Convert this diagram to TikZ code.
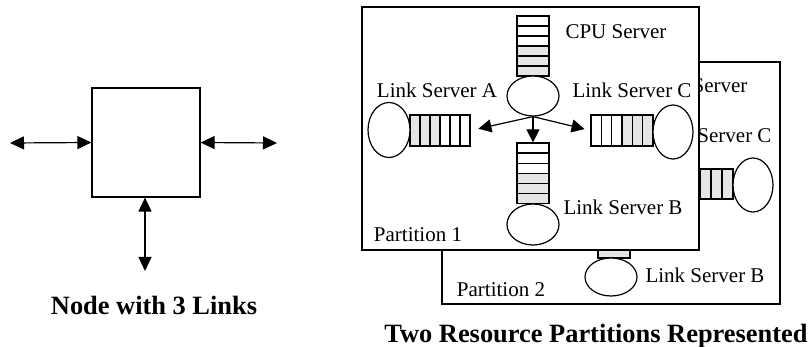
\documentclass[tikz,border=0pt]{standalone}
\usepackage{fontspec}
\setmainfont{Liberation Serif}
\usetikzlibrary{shapes.geometric,arrows.meta}

\tikzstyle{part}   = [draw,fill=white,line width=1.2pt]
\tikzstyle{server} = [draw,ellipse,fill=white,inner sep=0pt,line width=1.2pt]
\tikzstyle{queue}  = [draw,rectangle,inner sep=0pt,line width=1.2pt]
\tikzstyle{slot}   = [draw,fill=white,line width=1.2pt]
\tikzstyle{busy}   = [draw,fill=gray!20,line width=1.2pt]
\tikzstyle{link}   = [line width=1.2pt,
                      {Triangle[length=14pt,width=13pt]}-{Triangle[length=14pt,width=13pt]}]
\tikzstyle{flow}   = [line width=1.2pt,-{Triangle[length=13pt,width=13pt]}]
\tikzstyle{lbl}    = [font=\fontsize{21}{25}\selectfont,inner sep=0pt,text depth=0pt]
\tikzstyle{title}  = [font=\fontsize{26.4}{31}\selectfont\bfseries,inner sep=0pt,
                      text depth=0pt]

\begin{document}
\begin{tikzpicture}[x=1pt,y=-1pt]
  \useasboundingbox (0,0) rectangle (812,347);

  % node with 3 links
  \node[queue,minimum width=108pt,minimum height=109pt] at (146,142.5) (box) {};
  \coordinate (w) at (10,143);
  \coordinate (e) at (277,143);
  \coordinate (s) at (145,271);
  \draw[link] (w) -- (box.west);
  \draw[link] (box.east) -- (e);
  \draw[link] (box.south -| s) -- (s);
  \node[title] at (154,305) (t1) {Node with 3 Links};

  % partition 2 (behind)
  \node[part,minimum width=338pt,minimum height=242pt,inner sep=0pt] at (611,183) (p2) {};
  \node[lbl] at (697,86)  (cpu2l) {CPU Server};
  \node[lbl] at (712,135) (c2l)   {Link Server C};
  \foreach \i in {0,1,2} \draw[slot] (667+11*\i,169) rectangle +(11,30);
  \foreach \i in {3,4,5} \draw[busy] (667+11*\i,169) rectangle +(11,30);
  \node[server,minimum width=40pt,minimum height=54pt] at (753,185) (c2) {};
  \foreach \i in {0,1,2} \draw[slot] (598,198+10*\i) rectangle +(32,10);
  \foreach \i in {3,4,5} \draw[busy] (598,198+10*\i) rectangle +(32,10);
  \node[server,minimum width=52pt,minimum height=38pt] at (611,277) (b2) {};
  \node[lbl] at (705,275) (b2l) {Link Server B};
  \node[lbl] at (501,290) (p2l) {Partition 2};

  % partition 1 (front)
  \node[part,minimum width=337pt,minimum height=243pt,inner sep=0pt] at (530.5,128.5) (p1) {};
  \node[lbl] at (616,32)  (cpul) {CPU Server};
  \node[lbl] at (437,90)  (al)   {Link Server A};
  \node[lbl] at (632,90)  (cl)   {Link Server C};
  \node[lbl] at (623,207) (bl)   {Link Server B};
  \node[lbl] at (418,235) (p1l)  {Partition 1};

  % cpu server
  \foreach \i in {0,1,2} \draw[slot] (517,16+10*\i) rectangle +(32,10);
  \foreach \i in {3,4,5} \draw[busy] (517,16+10*\i) rectangle +(32,10);
  \node[server,minimum width=52pt,minimum height=40pt] at (533,96) (cpu) {};

  % link server A
  \foreach \i in {0,1,2} \draw[busy] (410+10*\i,115) rectangle +(10,31);
  \foreach \i in {3,4,5} \draw[slot] (410+10*\i,115) rectangle +(10,31);
  \node[queue,minimum width=60pt,minimum height=31pt] at (440,130.5) (qa) {};
  \node[server,minimum width=42pt,minimum height=55pt] at (389,130) (a) {};

  % link server C
  \foreach \i in {0,1,2} \draw[slot] (591+10.33*\i,115) rectangle +(10.33,31);
  \foreach \i in {3,4,5} \draw[busy] (591+10.33*\i,115) rectangle +(10.33,31);
  \node[queue,minimum width=62pt,minimum height=31pt] at (622,130.5) (qc) {};
  \node[server,minimum width=40pt,minimum height=54pt] at (673,132) (c) {};

  % link server B
  \foreach \i in {0,1,2} \draw[slot] (517,143+10.1*\i) rectangle +(32,10.1);
  \foreach \i in {3,4,5} \draw[busy] (517,143+10.1*\i) rectangle +(32,10.1);
  \node[queue,minimum width=32pt,minimum height=60.6pt] at (533,173.3) (qb) {};
  \node[server,minimum width=52pt,minimum height=41pt] at (533,224.5) (b) {};

  \draw[flow,shorten >=8pt] (cpu.south) -- (qa.east);
  \draw[flow] (cpu.south) -- (qb.north);
  \draw[flow,shorten >=6pt] (cpu.south) -- (qc.west);

  \node[title] at (596,333) (t2) {Two Resource Partitions Represented};
\end{tikzpicture}
\end{document}
